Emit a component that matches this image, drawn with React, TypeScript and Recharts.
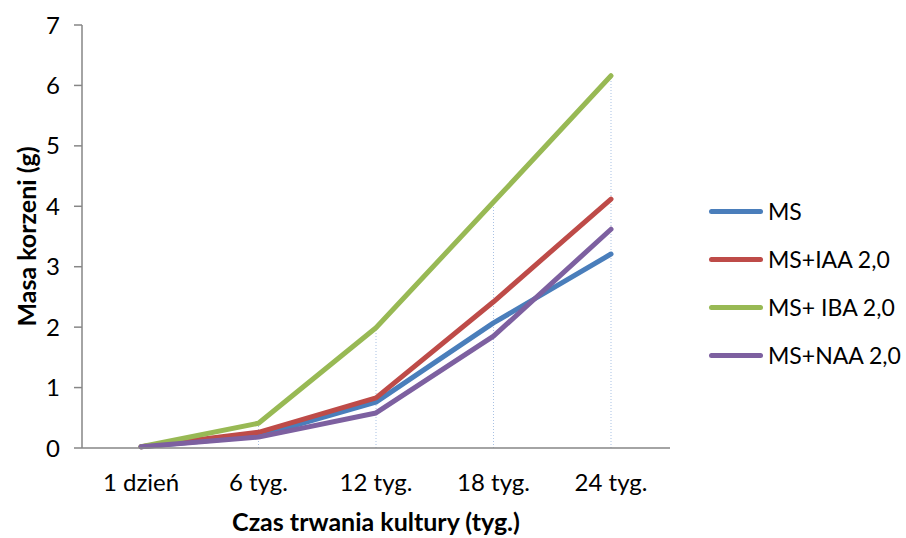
import React from 'react';
import { LineChart, Line, XAxis, YAxis, ReferenceLine, Label } from 'recharts';

const categories = ['1 dzień', '6 tyg.', '12 tyg.', '18 tyg.', '24 tyg.'];
const ms = [0.02, 0.2, 0.76, 2.07, 3.21];
const msIaa = [0.02, 0.26, 0.83, 2.42, 4.12];
const msIba = [0.02, 0.41, 1.99, 4.07, 6.16];
const msNaa = [0.02, 0.18, 0.58, 1.85, 3.62];
const yTicks = [0, 1, 2, 3, 4, 5, 6, 7];

const seriesNames = ['MS', 'MS+IAA 2,0', 'MS+ IBA 2,0', 'MS+NAA 2,0'];
const seriesColors = ['#4A7EBB', '#BE4B48', '#98B954', '#7D60A0'];
const seriesValues = [ms, msIaa, msIba, msNaa];

const data = categories.map((c, i) => {
  const row: any = { cat: c };
  seriesNames.forEach((n, k) => { row['s' + k] = seriesValues[k][i]; });
  row.max = Math.max(...seriesValues.map((s) => s[i]));
  return row;
});

const FONT = 'Lato, "Open Sans", sans-serif';

export default function App() {
  return (
    <div style={{ position: 'absolute', left: 0, top: 0, width: 906, height: 538, background: '#fff' }}>
      <LineChart width={906} height={538} data={data} margin={{ top: 25, right: 236, bottom: 0, left: 0 }}>
        <XAxis
          dataKey="cat"
          stroke="#868686"
          strokeWidth={1.5}
          tickLine={false}
          tickSize={0}
          tickMargin={26}
          padding={{ left: 59, right: 59 }}
          tick={{ fill: '#000', fontSize: 24, fontFamily: FONT }}
          height={90}
        >
          <Label value="Czas trwania kultury (tyg.)" position="insideBottom" offset={7}
            style={{ fill: '#000', fontSize: 25, fontWeight: 'bold', fontFamily: FONT }} />
        </XAxis>
        <YAxis
          domain={[0, 7]}
          ticks={yTicks}
          stroke="#868686"
          strokeWidth={1.5}
          tickSize={8}
          tickMargin={14}
          width={82}
          tick={{ fill: '#000', fontSize: 24, fontFamily: FONT }}
        >
          <Label value="Masa korzeni (g)" angle={-90} position="insideLeft" offset={27}
            style={{ fill: '#000', fontSize: 25, fontWeight: 'bold', fontFamily: FONT, textAnchor: 'middle' }} />
        </YAxis>
        {data.map((d) => (
          <ReferenceLine key={d.cat} segment={[{ x: d.cat, y: 0 }, { x: d.cat, y: d.max }]}
            stroke="#A9C1E3" strokeDasharray="1 2" strokeWidth={1} />
        ))}
        {seriesNames.map((n, k) => (
          <Line key={n} dataKey={'s' + k} name={n} stroke={seriesColors[k]} strokeWidth={5}
            strokeLinecap="round" strokeLinejoin="round" dot={false} activeDot={false}
            isAnimationActive={false} type="linear" />
        ))}
      </LineChart>
      <div style={{ position: 'absolute', left: 709, top: 187, fontFamily: FONT }}>
        {seriesNames.map((n, k) => (
          <div key={n} style={{ display: 'flex', alignItems: 'center', height: 48 }}>
            <div style={{ width: 54, height: 5, borderRadius: 3, background: seriesColors[k], marginRight: 5 }} />
            <span style={{ fontSize: 23, color: '#000', lineHeight: '48px' }}>{n}</span>
          </div>
        ))}
      </div>
    </div>
  );
}
